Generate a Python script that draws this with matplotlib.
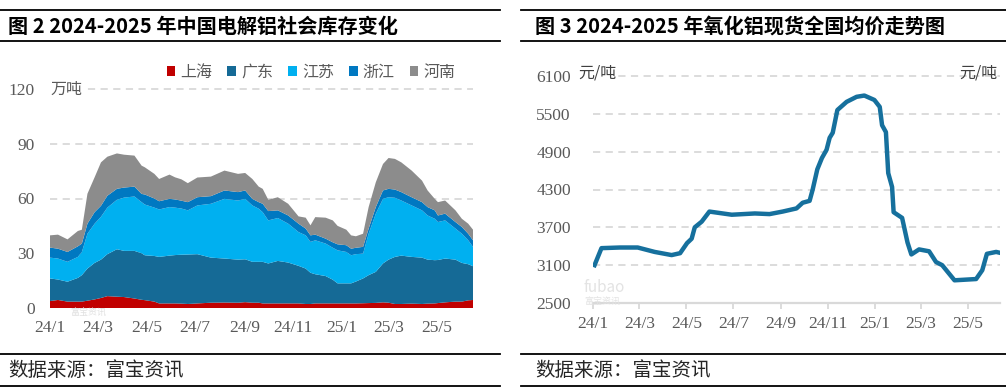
import matplotlib
matplotlib.use('Agg')
import matplotlib.pyplot as plt
from matplotlib.lines import Line2D
import pandas as pd

plt.rcParams['font.family'] = ['Noto Sans CJK SC', 'DejaVu Sans']

# 图2 电解铝社会库存 (万吨)
inv_dates = ['2024-01-01', '2024-01-11', '2024-01-23', '2024-02-05', '2024-02-10', '2024-02-17',
             '2024-02-26', '2024-03-05', '2024-03-13', '2024-03-25', '2024-04-03', '2024-04-16',
             '2024-04-25', '2024-04-29', '2024-05-11', '2024-05-17', '2024-05-30', '2024-06-06',
             '2024-06-14', '2024-06-22', '2024-07-04', '2024-07-21', '2024-08-07', '2024-08-24',
             '2024-09-02', '2024-09-11', '2024-09-19', '2024-09-24', '2024-10-01', '2024-10-13',
             '2024-10-26', '2024-11-08', '2024-11-17', '2024-11-23', '2024-11-29', '2024-12-12',
             '2024-12-21', '2024-12-27', '2025-01-07', '2025-01-13', '2025-01-19', '2025-01-28',
             '2025-02-04', '2025-02-13', '2025-02-22', '2025-03-01', '2025-03-09', '2025-03-17',
             '2025-03-30', '2025-04-12', '2025-04-19', '2025-04-28', '2025-05-02', '2025-05-11',
             '2025-05-24', '2025-06-01', '2025-06-09', '2025-06-15']
shanghai = [3.8, 4.4, 3.5, 3.5, 3.5, 4.0, 4.7, 5.5, 6.5, 6.2,
            6.0, 5.2, 4.5, 4.3, 3.5, 2.5, 2.5, 2.5, 2.4, 2.2,
            2.5, 2.9, 3.0, 2.9, 3.2, 2.9, 2.9, 2.5, 2.5, 2.5,
            2.5, 2.5, 2.2, 2.2, 2.5, 2.5, 2.5, 2.5, 2.5, 2.5,
            2.5, 2.6, 2.7, 2.8, 3.1, 2.9, 2.2, 2.2, 2.4, 2.2,
            2.4, 2.5, 2.7, 3.1, 3.5, 3.5, 4.2, 4.4]
guangdong = [12.4, 11.2, 10.9, 13.0, 14.5, 17.6, 20.0, 21.0, 23.0, 26.0,
             25.3, 26.1, 25.5, 24.6, 25.0, 25.5, 26.2, 26.5, 26.8, 27.1,
             27.0, 24.7, 24.1, 23.6, 23.5, 22.4, 22.4, 22.8, 21.9, 23.3,
             22.4, 20.6, 19.4, 17.1, 16.0, 15.0, 13.0, 11.0, 11.0, 11.0,
             12.0, 13.6, 15.3, 17.0, 21.3, 23.6, 25.8, 26.5, 25.6, 25.4,
             24.1, 23.7, 23.6, 24.0, 23.0, 21.2, 19.8, 18.5]
jiangsu = [11.4, 11.5, 10.9, 11.5, 12.7, 19.1, 21.5, 23.5, 25.5, 27.1,
           29.2, 29.8, 28.0, 27.8, 26.5, 26.0, 26.6, 26.0, 25.3, 24.2,
           26.7, 29.5, 32.7, 32.4, 33.1, 30.9, 29.1, 27.2, 23.6, 23.5,
           21.3, 18.5, 18.2, 16.9, 18.6, 17.8, 17.5, 18.1, 17.2, 15.4,
           15.0, 13.6, 22.7, 31.9, 35.4, 34.2, 32.4, 30.2, 28.2, 25.9,
           24.2, 22.7, 20.8, 20.9, 17.0, 16.0, 13.1, 10.6]
zhejiang = [5.5, 5.4, 5.4, 5.8, 4.6, 5.5, 6.3, 6.0, 6.5, 6.0,
            5.5, 5.4, 4.5, 5.5, 5.0, 4.5, 4.5, 4.5, 4.3, 4.5,
            4.5, 4.2, 4.6, 4.6, 4.6, 3.6, 3.6, 4.6, 5.1, 4.2,
            4.5, 4.6, 3.7, 3.6, 3.1, 2.7, 3.0, 3.3, 3.7, 3.6,
            3.5, 3.7, 2.8, 3.6, 4.6, 4.6, 4.5, 4.6, 4.5, 4.5,
            4.6, 4.6, 3.6, 3.7, 3.6, 3.7, 3.6, 3.6]
henan = [6.7, 7.7, 6.9, 8.4, 7.6, 16.4, 19.1, 23.8, 21.4, 19.4,
         18.0, 17.0, 15.5, 14.9, 13.5, 12.2, 13.3, 12.1, 11.7, 10.4,
         10.8, 10.7, 10.9, 10.0, 9.6, 10.9, 8.5, 8.2, 6.2, 7.2,
         6.4, 4.0, 6.0, 5.5, 9.6, 11.5, 12.0, 10.1, 8.5, 7.3,
         6.3, 7.2, 11.8, 13.6, 14.5, 16.9, 16.8, 16.3, 14.6, 11.8,
         9.1, 6.3, 7.3, 7.2, 6.4, 4.5, 5.5, 5.8]
inv_names = ['上海', '广东', '江苏', '浙江', '河南']
inv_colors = ['#C00000', '#156A96', '#00B0F0', '#0078C1', '#8C8C8C']

# 图3 氧化铝现货全国均价 (元/吨)
price_dates = ['2024-01-03', '2024-01-12', '2024-02-05', '2024-02-28', '2024-03-21', '2024-04-12',
               '2024-04-23', '2024-05-02', '2024-05-08', '2024-05-12', '2024-05-21', '2024-05-31',
               '2024-06-29', '2024-07-29', '2024-08-17', '2024-09-03', '2024-09-21', '2024-09-29',
               '2024-10-08', '2024-10-12', '2024-10-18', '2024-10-24', '2024-10-30', '2024-11-03',
               '2024-11-07', '2024-11-13', '2024-11-25', '2024-12-08', '2024-12-18', '2024-12-31',
               '2025-01-07', '2025-01-10', '2025-01-15', '2025-01-18', '2025-01-23', '2025-01-25',
               '2025-02-05', '2025-02-12', '2025-02-17', '2025-02-27', '2025-03-12', '2025-03-21',
               '2025-03-29', '2025-04-14', '2025-05-12', '2025-05-20', '2025-05-26', '2025-06-07',
               '2025-06-14']
price = [3100, 3370, 3380, 3380, 3310, 3260, 3290, 3450, 3520, 3700,
         3790, 3950, 3900, 3920, 3910, 3950, 4000, 4090, 4120, 4300,
         4620, 4800, 4930, 5120, 5200, 5560, 5690, 5770, 5790, 5720,
         5610, 5320, 5210, 4560, 4340, 3940, 3850, 3460, 3270, 3350,
         3320, 3150, 3100, 2860, 2880, 3020, 3280, 3310, 3290]

month_ticks = ['2024-01-01', '2024-03-01', '2024-05-01', '2024-07-01', '2024-09-01',
               '2024-11-01', '2025-01-01', '2025-03-01', '2025-05-01']
month_labels = ['24/1', '24/3', '24/5', '24/7', '24/9', '24/11', '25/1', '25/3', '25/5']

W, H = 1006, 392
fig = plt.figure(figsize=(W / 100, H / 100), dpi=100)


def fx(px):
    return px / W


def fy(py):
    return 1 - py / H


grey_txt = '#595959'
grid_c = '#D9D9D9'
num_font = 'Liberation Serif'
ticks = pd.to_datetime(month_ticks)

# ---- 左图: 堆积面积
d1 = pd.to_datetime(inv_dates)
ax1 = fig.add_axes([fx(50), fy(308), (473 - 50) / W, (308 - 89) / H])
ax1.stackplot(d1, shanghai, guangdong, jiangsu, zhejiang, henan,
              colors=inv_colors, labels=inv_names, lw=0, zorder=2)
for v in [30, 60, 90, 120]:
    ax1.axhline(v, color=grid_c, lw=1.3, ls=(0, (4, 3)), zorder=1, clip_on=False)
ax1.set_xlim(d1[0], d1[-1])
ax1.set_ylim(0, 120)
ax1.set_yticks([0, 30, 60, 90, 120], labels=['0', '30', '60', '90', '120'], fontfamily=num_font)
ax1.set_xticks(ticks, labels=month_labels, fontfamily=num_font)
ax1.tick_params(axis='y', length=0, pad=11, labelsize=12.5, labelcolor=grey_txt)
ax1.tick_params(axis='x', length=0, pad=9, labelsize=12.5, labelcolor=grey_txt)
for s in ax1.spines.values():
    s.set_visible(False)
ax1.text(0, 1, '万吨', transform=ax1.transAxes, ha='left', va='center', fontsize=11.5,
         color=grey_txt, zorder=3, bbox=dict(facecolor='white', edgecolor='none', pad=1))
fig.legend(*ax1.get_legend_handles_labels(), loc='center', bbox_to_anchor=(fx(311), fy(72)),
           ncol=5, frameon=False, fontsize=11.5, handlelength=0.55, handleheight=0.55,
           handletextpad=0.3, columnspacing=0.95, labelcolor=grey_txt, borderpad=0)
fig.text(fx(70), fy(313), '富宝资讯', fontsize=6.5, color='#E0E0E0', va='center', zorder=0)

# ---- 右图: 价格折线
d2 = pd.to_datetime(price_dates)
ax2 = fig.add_axes([fx(593), fy(303), (1000 - 593) / W, (303 - 76) / H])
for v in [3100, 3700, 4300, 4900, 5500, 6100]:
    ax2.axhline(v, color=grid_c, lw=1.3, ls=(0, (4, 3)), zorder=1, clip_on=False)
ax2.plot(d2, price, color='#16709D', lw=3.2, zorder=3, solid_joinstyle='round')
ax2.set_xlim(pd.Timestamp('2024-01-01'), pd.Timestamp('2025-06-12'))
ax2.set_ylim(2500, 6100)
ax2.set_yticks([2500, 3100, 3700, 4300, 4900, 5500, 6100],
               labels=['2500', '3100', '3700', '4300', '4900', '5500', '6100'], fontfamily=num_font)
ax2.set_xticks(ticks, labels=month_labels, fontfamily=num_font)
ax2.tick_params(axis='y', length=0, pad=16, labelsize=12.5, labelcolor=grey_txt)
ax2.tick_params(axis='x', length=4, width=1.3, color=grid_c, pad=5, labelsize=12.5,
                labelcolor=grey_txt)
for k, s in ax2.spines.items():
    s.set_visible(k == 'bottom')
ax2.spines['bottom'].set_color(grid_c)
ax2.spines['bottom'].set_linewidth(1.6)
ax2.text(fx(578), fy(73), '元/吨', transform=fig.transFigure, ha='left', va='center',
         fontsize=11.5, color='#404040', zorder=4,
         bbox=dict(facecolor='white', edgecolor='none', pad=1))
ax2.text(fx(998), fy(73), '元/吨', transform=fig.transFigure, ha='right', va='center',
         fontsize=11.5, color='#404040', zorder=4)
fig.text(fx(584), fy(288), 'fubao', fontsize=11, color='#E3E3E3', va='center', zorder=0)
fig.text(fx(584), fy(302), '富宝资讯', fontsize=6.5, color='#E3E3E3', va='center', zorder=0)

# ---- 标题与框线
for x0, x1 in [(0, 500), (521, 1006)]:
    for yy in [10, 41, 354, 386]:
        fig.add_artist(Line2D([fx(x0), fx(x1)], [fy(yy)] * 2, color='black', lw=1.3))

fig.text(fx(8), fy(26), '图 2 2024-2025 年中国电解铝社会库存变化', fontsize=14.5,
         fontweight='bold', va='center')
fig.text(fx(535), fy(26), '图 3 2024-2025 年氧化铝现货全国均价走势图', fontsize=14.5,
         fontweight='bold', va='center')
fig.text(fx(8), fy(371), '数据来源：富宝资讯', fontsize=14, va='center', color='#262626')
fig.text(fx(535), fy(371), '数据来源：富宝资讯', fontsize=14, va='center', color='#262626')

fig.savefig('out.png', dpi=100)
